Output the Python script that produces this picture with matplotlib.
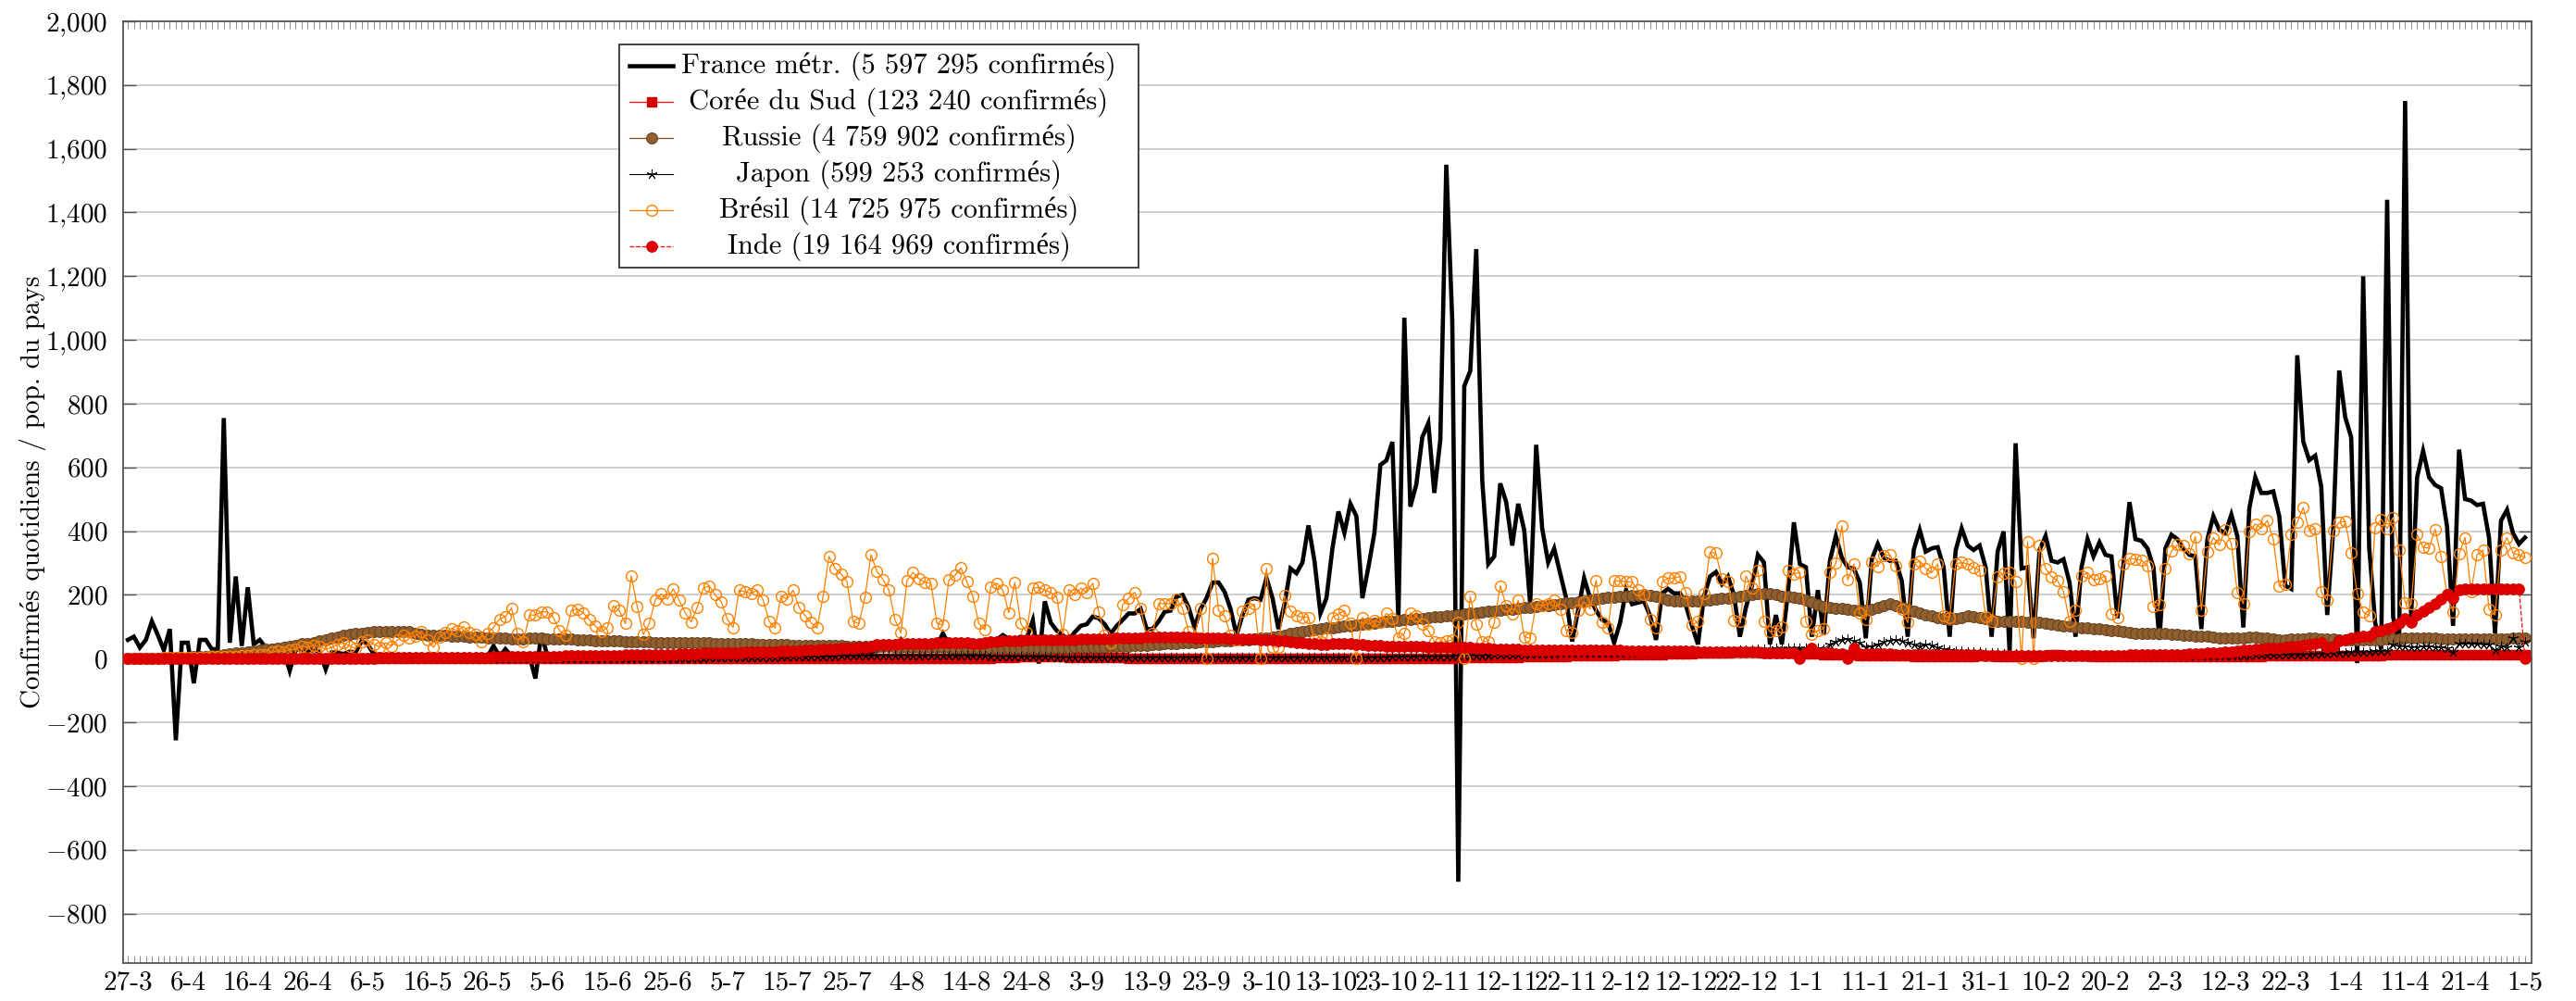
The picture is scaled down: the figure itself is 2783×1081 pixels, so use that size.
import numpy as np
import pandas as pd
import matplotlib
matplotlib.use("Agg")
import matplotlib.pyplot as plt
from matplotlib.patches import Rectangle

# daily confirmed / population (per million), one value per day from 27-3-2020
france = [59, 69, 35, 59, 117, 74, 27, 93, -256, 50, 50, -77, 59, 59, 30, 30, 755, 50, 258, 40, 224, 45, 59,
          35, 40, 30, 25, -38, 30, 25, 20, 28, 22, -33, 20, 18, 15, 22, 20, 55, 45,
          15, 12, 10, 14, 8, 10, 12, 6, 9, 8, 10, 7, 5, 9, 8, 6, 5, 7, 8, 6,
          40, 8, 30, 7, 5, 6, 8, -62, 79,
          8, 6, 7, 5, 6, 7, 5, 4, 6, 8, 7, 5, 6, 7, 8, 9, 7, 6, 8, 9, 10, 8, 9, 11, 10, 9, 8, 10, 12, 11,
          10, 12, 11, 9, 13, 14, 12, 11, 10, 13, 15, 14, 12, 16, 18, 17, 15, 19, 20, 18,
          16, 22, 24, 21, 20, 25, 28, 30, 27, 59, 30, 35, 38, 33, 40, 42, 79,
          45, 48, 44, 50, 55, 52, 48, 58, 60, 74, 62, 60, 69, 65,
          120, -15,
          180, 113, 88, 74, 59, 83, 103, 108, 132, 127, 108, 79, 103, 122, 142, 142, 156, 93, 93, 117,
          147, 151, 195, 200, 161, 98, 156, 190, 239, 239, 210, 156, 74, 137, 185, 190, 185, 253, 190, 93,
          171, 283, 268, 302, 418, 307, 142, 190, 346, 462, 395,
          486, 447, 190, 287, 394, 608, 622, 680, 122, 1070, 477, 547, 695, 739, 520, 686, 1550, 1060, -700, 855,
          903, 1285, 559, 297, 321, 550, 491, 355, 486, 404, 171, 671, 409, 302, 346, 268, 190, 54, 151, 253,
          190, 151, 122, 113, 50, 113, 215, 171, 176, 180, 135,
          59, 205, 219, 205, 205, 166, 103, 45, 195, 258, 272, 234, 258, 200, 69, 161, 229, 326, 302, 45,
          137, 45, 205, 428, 297, 287, 69, 215, 74, 307, 385, 317, 287, 283, 239, 64, 312, 360, 317, 307,
          307, 244, 69, 341, 404, 336, 346, 350, 287, 69, 340,
          409, 355, 341, 355, 287, 69, 336, 399, 20, 676, 283, 287, 64, 341, 385, 307, 302, 312, 239, 69,
          287, 375, 321, 365, 326, 321, 127, 297, 491, 375, 370, 346, 287, 59, 346, 389, 375, 346, 326, 321,
          93, 375, 447, 404, 394, 452, 385, 98, 472,
          569, 520, 520, 525, 447, 229, 219, 952, 681, 623, 637, 540, 137, 404, 904, 758, 695, -14, 1200, 350,
          113, 30, 1440, 130, 50, 1750, 132, 569, 652, 569, 545, 535, 414, 103, 656, 501, 496, 482, 486, 380,
          79, 433, 467, 394, 360, 380]

coree = [2, 2, 2, 2, 2, 2, 2, 1, 1, 1, 1, 1, 1, 1, 1, 1, 1, 1, 1, 1, 1, 1, 0, 0, 0, 0, 0, 0, 0, 0,
         0, 0, 0, 0, 0, 0, 0, 0, 0, 0, 0, 0, 0, 0, 1, 1, 1, 1, 1, 1, 0, 0, 0, 0, 0, 0, 0, 1, 1, 1,
         1, 1, 1, 1, 1, 1, 1, 1, 1, 1, 1, 1, 1, 1, 1, 1, 1, 1, 1, 1, 1, 1, 1, 1, 1, 1, 1, 1, 1, 1,
         1, 1, 1, 1, 1, 1, 1, 1, 1, 1, 1, 1, 1, 1, 1, 1, 1, 1, 1, 1, 1, 1, 1, 1, 1, 1, 1, 1, 1, 1,
         1, 1, 1, 1, 1, 1, 1, 1, 1, 1, 1, 1, 1, 1, 1, 1, 1, 1, 1, 1, 1, 1, 1, 1, 2, 3, 4, 5, 5, 6,
         7, 8, 6, 6, 7, 8, 6, 5, 5, 4, 4, 3, 3, 3, 3, 3, 3, 2, 2, 2, 2, 2, 2, 2, 2, 2, 2, 2, 2, 2,
         2, 2, 2, 2, 2, 2, 2, 2, 2, 2, 2, 2, 2, 2, 2, 2, 2, 2, 2, 2, 2, 2, 2, 2, 2, 2, 2, 2, 2, 2,
         2, 2, 2, 2, 2, 2, 2, 2, 2, 2, 2, 2, 3, 3, 3, 3, 3, 4, 4, 4, 4, 5, 5, 6, 6, 6, 7, 7, 8, 8,
         8, 9, 9, 10, 10, 10, 11, 11, 11, 12, 12, 12, 13, 13, 13, 14, 14, 15, 15, 15,
         16, 16, 17, 17, 18, 18, 19, 19, 20, 20, 20, 20, 20, 19, 19, 18, 18, 17, 17, 16,
         16, 15, 15, 14, 14, 13, 13, 12, 12, 11, 11, 10, 10, 10, 9, 9, 9, 9, 8, 8,
         8, 8, 8, 8, 8, 8, 8, 8, 8, 9, 9, 9, 8, 8, 8, 8, 8, 8, 8, 8,
         11, 12, 12, 11, 10, 9, 9, 9, 8, 8, 8, 8, 8, 8, 8, 8, 8, 8, 8, 8,
         8, 8, 8, 8, 8, 8, 8, 8, 8, 8, 8, 8, 8, 8, 8, 8, 8, 9, 9, 9,
         9, 9, 9, 9, 9, 9, 9, 9, 10, 10, 10, 10, 10, 11, 11, 11, 11, 12, 12, 12,
         12, 12, 12, 13, 13, 13, 13, 13, 13, 13, 13, 13, 13, 13, 13, 13, 14, 14, 14, 14,
         14]

russie = [1, 1, 1, 2, 2, 2, 3, 3, 4, 4, 5, 6, 7, 8, 10, 11, 13, 15, 17, 19,
          21, 23, 26, 29, 31, 34, 37, 40, 43, 46, 48, 51, 55, 60, 65, 69, 73, 76, 78, 80,
          82, 84, 85, 86, 86, 85, 84, 84, 80, 76, 75, 74, 74, 73, 72, 71, 70, 69, 68, 67,
          66, 66, 65, 64, 63, 63, 63, 64, 64, 64, 63, 63, 62, 62, 61, 60, 59, 58, 57, 57,
          56, 56, 55, 54, 53, 53, 52, 52, 51, 51, 50, 50, 50, 50, 50, 49, 49, 49, 48, 48,
          48, 47, 47, 46, 46, 45, 45, 45, 44, 44, 44, 43, 43, 43, 42, 42, 42, 41, 41, 41,
          40, 40, 40, 39, 39, 38, 38, 38, 37, 37, 37, 36, 36, 36, 35, 35, 35, 35, 34, 34,
          34, 34, 33, 33, 33, 33, 33, 33, 32, 32, 32, 32, 32, 33, 33, 33, 34, 34, 35, 35,
          36, 36, 37, 37, 38, 38, 39, 40, 41, 42, 43, 44, 45, 46, 47, 48, 49, 50, 51, 52,
          53, 54, 55, 56, 57, 58, 59, 60, 62, 64, 66, 69, 72, 75, 78, 81, 84, 87, 90, 93,
          96, 98, 100, 102, 104, 106, 108, 110, 112, 114, 116, 118, 120, 122, 124, 125, 127, 129, 131, 132,
          134, 136, 138, 140, 142, 144, 146, 148, 150, 152, 154, 156, 158, 160, 162, 164, 166, 168, 170, 172,
          174, 176, 178, 180, 184, 188, 190, 192, 194, 196, 197, 198, 199, 200, 198, 195, 190, 185, 182, 180,
          180, 181, 182, 183, 185, 187, 189, 191, 193, 195, 198, 200, 203, 205, 203, 200, 197, 195, 192, 190,
          185, 178, 170, 164, 161, 159, 157, 155, 153, 151, 152, 155, 160, 166, 171, 168, 162, 155, 148, 142,
          138, 134, 130, 126, 122, 125, 130, 135, 133, 130, 126, 122, 118, 117, 117, 116, 116, 115, 114, 113,
          110, 108, 106, 104, 102, 100, 98, 96, 95, 93, 91, 89, 87, 85, 82, 79, 79, 79, 79, 79,
          78, 77, 76, 75, 74, 72, 71, 70, 68, 66, 64, 64, 65, 66, 67, 68, 66, 64, 62, 60,
          60, 61, 62, 63, 64, 64, 63, 62, 61, 60, 60, 59, 59, 59, 59, 59, 60, 61, 62, 63,
          64, 64, 64, 64, 64, 64, 63, 63, 63, 63, 63, 63, 63, 62, 62, 62, 63, 63, 64, 65,
          66]

japon = [1, 1, 1, 1, 1, 2, 2, 2, 2, 3, 3, 3, 4, 4, 4, 5, 4, 5, 4, 4,
         3, 4, 3, 3, 2, 2, 2, 2, 2, 2, 2, 2, 1, 1, 1, 1, 1, 1, 1, 1,
         1, 1, 1, 1, 0, 0, 0, 0, 0, 0, 0, 0, 0, 0, 0, 0, 0, 0, 0, 0,
         0, 0, 0, 0, 0, 0, 0, 0, 0, 1, 1, 1, 1, 1, 1, 1, 1, 1, 1, 1,
         1, 1, 1, 1, 1, 1, 1, 1, 2, 2, 2, 2, 2, 2, 2, 2, 2, 3, 3, 3,
         3, 3, 3, 4, 4, 4, 5, 5, 5, 6, 6, 6, 7, 7, 7, 8, 8, 8, 8, 9,
         9, 9, 9, 9, 10, 10, 10, 10, 10, 10, 10, 10, 10, 10, 10, 11, 11, 11, 11, 10,
         10, 9, 9, 9, 8, 8, 8, 8, 7, 7, 7, 6, 6, 6, 6, 5, 5, 5, 5, 5,
         5, 4, 4, 4, 4, 4, 4, 4, 4, 4, 4, 4, 4, 4, 4, 4, 4, 4, 4, 4,
         4, 4, 4, 4, 4, 4, 4, 4, 4, 4, 4, 4, 4, 4, 4, 4, 4, 4, 4, 4,
         4, 4, 4, 4, 4, 5, 5, 5, 5, 5, 5, 6, 6, 6, 6, 7, 7, 7, 7, 8,
         8, 8, 9, 9, 10, 10, 11, 11, 12, 12, 13, 13, 14, 14, 15, 15, 16, 16, 16, 17,
         17, 17, 17, 17, 18, 18, 18, 18, 18, 19, 19, 19, 20, 20, 20, 20, 21, 21, 21, 22,
         22, 22, 23, 23, 24, 24, 24, 25, 25, 26, 27, 28, 29, 30, 31, 32, 33, 33, 34, 34,
         34, 33, 32, 30, 45, 54, 60, 62, 55, 50, 37, 40, 45, 52, 57, 59, 55, 50, 45, 40,
         45, 42, 35, 30, 27, 25, 24, 22, 21, 20, 19, 18, 17, 16, 16, 15, 15, 14, 14, 14,
         13, 13, 13, 12, 12, 12, 12, 11, 11, 11, 11, 11, 11, 11, 11, 11, 11, 10, 10, 10,
         10, 10, 10, 10, 10, 10, 10, 10, 10, 10, 10, 10, 11, 11, 11, 12, 12, 12, 13, 13,
         13, 13, 14, 14, 14, 15, 15, 16, 17, 18, 19, 20, 21, 22, 22, 23, 24, 25, 45, 40,
         38, 37, 36, 38, 38, 36, 35, 33, 20, 46, 48, 47, 46, 45, 44, 27, 38, 35, 64, 35,
         54]

bresil = [1, 1, 1, 2, 2, 2, 3, 3, 3, 4, 4, 4, 5, 5, 6, 6, 7, 8, 8, 9, 10, 12, 12, 14,
          20, 25, 22, 28, 30, 40, 35, 42, 38, 30, 35, 45, 50, 40, 32, 54, 60, 45, 37, 50, 40, 59, 74, 66, 72,
          85,
          59, 35, 69, 82, 95, 88, 101, 82, 76, 54, 79, 98, 124, 132, 159, 79, 54, 137, 137, 147,
          147, 130, 88, 74, 151, 156, 144, 122, 103, 84, 98, 166, 151, 110, 260, 163, 76, 110, 185, 203,
          187, 219, 183, 144, 115, 161, 221, 229, 200, 179, 125, 98,
          215, 210, 205, 215, 185, 117, 96, 197, 187, 215, 161, 135, 113, 96, 195, 321, 283, 266, 242, 117,
          110, 193, 326, 273, 249, 215, 122, 81, 244, 271, 251, 239, 237, 111, 105, 247, 261, 285, 241, 195,
          110, 91, 226, 237, 215, 144, 239, 110, 82, 221, 224,
          215, 208, 193, 76, 217, 200, 221, 207, 237, 147, 74, 50, 66, 169, 190, 208, 159, 69, 79, 173,
          173, 173, 187, 158, 84, 69, 159, 1, 315, 151, 134, 74, 59, 150, 159, 171, 0, 284, 35, 37,
          198, 150, 135, 130, 130, 59, 54, 64, 130, 140, 151,
          111, 0, 130, 108, 120, 113, 142, 127, 64, 79, 144, 134, 108, 88, 54, 50, 55, 59, 113, 1,
          195, 108, 54, 54, 113, 229, 166, 140, 183, 69, 64, 171, 166, 171, 185, 156, 88, 82, 151, 179,
          156, 246, 115, 98, 244, 244, 241, 241, 215, 202, 124,
          98, 241, 253, 253, 258, 208, 105, 117, 205, 334, 331, 250, 241, 120, 117, 260, 221, 278, 116, 84,
          88, 100, 276, 266, 270, 116, 76, 88, 95, 270, 299, 417, 247, 297, 142, 122, 302, 289, 324, 326,
          292, 156, 113, 297, 307, 283, 270, 297, 134, 130, 297,
          302, 297, 287, 278, 132, 117, 256, 268, 270, 241, 0, 367, 0, 355, 283, 258, 244, 210, 117, 153,
          260, 270, 247, 251, 260, 140, 130, 297, 315, 312, 309, 292, 163, 169, 283, 338, 357, 355, 328, 383,
          153, 334, 380, 357, 406, 360, 208, 173, 399,
          423, 409, 433, 375, 227, 234, 389, 428, 474, 402, 409, 210, 183, 402, 428, 431, 331, 205, 147, 134,
          412, 438, 409, 443, 341, 176, 171, 389, 350, 347, 406, 322, 200, 147, 328, 380, 210, 326, 341, 156,
          137, 341, 380, 331, 326, 317]

inde = [0, 0, 0, 0, 0, 0, 0, 0, 0, 0, 0, 1, 1, 1, 1, 1, 1, 1, 1, 1,
        1, 1, 1, 1, 1, 1, 1, 1, 1, 1, 1, 1, 1, 2, 2, 2, 2, 2, 2, 2,
        2, 2, 3, 3, 3, 3, 3, 3, 3, 3, 4, 4, 4, 4, 4, 4, 5, 5, 5, 5,
        5, 6, 6, 6, 6, 7, 7, 7, 7, 8, 8, 8, 8, 9, 9, 9, 10, 10, 10, 10,
        11, 11, 11, 12, 12, 12, 13, 13, 13, 14, 14, 14, 15, 15, 16, 16, 17, 17, 18, 18,
        18, 19, 19, 20, 20, 21, 21, 22, 22, 23, 24, 24, 25, 26, 27, 28, 29, 30, 31, 32,
        33, 34, 35, 37, 40, 44, 45, 45, 45, 46, 46, 47, 47, 48, 48, 49, 50, 50, 50, 50,
        49, 48, 47, 50, 53, 54, 55, 55, 56, 57, 58, 59, 60, 60, 60, 60, 60, 60, 60, 61,
        61, 62, 62, 63, 63, 64, 65, 65, 66, 66, 67, 67, 68, 68, 68, 68, 67, 67, 66, 66,
        65, 65, 64, 64, 63, 63, 62, 62, 61, 60, 59, 58, 57, 55, 52, 50, 49, 48, 47, 45,
        44, 46, 48, 47, 46, 45, 44, 43, 42, 41, 40, 40, 39, 39, 38, 38, 38, 37, 37, 37,
        36, 36, 36, 35, 35, 34, 33, 32, 31, 30, 30, 29, 29, 28, 28, 28, 28, 28, 28, 27,
        27, 27, 27, 27, 27, 27, 26, 26, 26, 26, 25, 25, 25, 25, 24, 24, 24, 24, 23, 23,
        23, 23, 22, 22, 22, 22, 21, 21, 21, 21, 20, 20, 20, 19, 19, 19, 18, 18, 18, 0,
        18, 34, 17, 17, 17, 16, 16, 0, 32, 16, 16, 15, 15, 15, 15, 14, 14, 14, 14, 14,
        13, 13, 13, 13, 12, 12, 12, 12, 12, 12, 11, 11, 11, 11, 11, 11, 11, 11, 11, 11,
        11, 11, 11, 11, 11, 11, 11, 11, 11, 11, 11, 11, 11, 11, 12, 12, 12, 12, 12, 13,
        13, 13, 14, 14, 15, 15, 16, 17, 18, 19, 20, 22, 24, 26, 28,
        30, 31, 32, 33, 34, 36, 38, 40, 42, 45, 48, 50, 37, 38, 55, 60, 64, 68, 72, 70,
        85, 88, 93, 99, 112, 125, 113, 137, 148, 160, 172, 188, 202, 190, 215, 218, 219, 219, 219, 219,
        219, 219, 219, 219, 219, 0]

labels = ['France métr. (5 597 295 confirmés)', 'Corée du Sud (123 240 confirmés)',
          'Russie (4 759 902 confirmés)', 'Japon (599 253 confirmés)',
          'Brésil (14 725 975 confirmés)', 'Inde (19 164 969 confirmés)']

dates = pd.date_range('2020-03-27', periods=len(france), freq='D')
x = np.arange(len(dates))
day_labels = [f'{d.day}-{d.month}' for d in dates]

plt.rcParams['font.family'] = ['cmr10', 'Liberation Serif']
plt.rcParams['mathtext.fontset'] = 'cm'

W, H = 2783, 1081
fig = plt.figure(figsize=(W / 100, H / 100), dpi=100)
ax_l, ax_r, ax_t, ax_b = 133, 2735, 23, 1040
ax = fig.add_axes([ax_l / W, 1 - ax_b / H, (ax_r - ax_l) / W, (ax_b - ax_t) / H])

styles = [
    dict(color='black', lw=3.3, solid_joinstyle='miter'),
    dict(color='red', lw=0.9, marker='s', ms=7, mfc='#d40000', mec='#d40000'),
    dict(color='#7a4a1e', lw=0.9, marker='o', ms=8.5, mfc='#8f5f30', mec='#6a4220', mew=0.8),
    dict(color='black', lw=0.8, marker=(5, 2, 0), ms=8, mew=0.7),
    dict(color='#ff8000', lw=0.9, marker='o', ms=8.5, mfc='none', mec='#ff8000', mew=1.0),
    dict(color='red', lw=0.9, ls='--', marker='o', ms=8.5, mfc='#e00000', mec='#cc0000', mew=0.6),
]
series = [france, coree, russie, japon, bresil, inde]
for i, (vals, st) in enumerate(zip(series, styles)):
    ax.plot(x, vals, zorder=3 + i, **st)

ax.set_xlim(-0.8, 401.1)
ax.set_ylim(-955, 2000)

yt = np.arange(-800, 2001, 200)
ax.set_yticks(yt)
ax.set_yticklabels(['$' + f'{v:,}'.replace(',', '{,}') + '$' for v in yt], fontsize=21)
ax.set_xticks(x[::10])
ax.set_xticklabels(day_labels[::10], fontsize=21)
ax.set_xticks(x, minor=True)

ax.tick_params(axis='y', direction='in', left=True, right=True, length=10, width=1.0,
               color='#555555', pad=12)
ax.tick_params(axis='x', which='both', direction='in', top=True, bottom=True,
               length=6, width=0.6, color='#777777', pad=6)
ax.grid(axis='y', color='#cccccc', lw=1.3, zorder=0)
ax.set_axisbelow(True)
for sp in ax.spines.values():
    sp.set_color('#555555')
    sp.set_linewidth(1.3)

ax.set_ylabel('Confirmés quotidiens / pop. du pays', fontsize=21)
ax.yaxis.set_label_coords((50 - ax_l) / (ax_r - ax_l), 0.5)

# legend box drawn by hand so that the entries are centered like the original
aw, ah = ax_r - ax_l, ax_b - ax_t
def fx(px):
    return (px - ax_l) / aw
def fy(py):
    return 1 - (py - ax_t) / ah

ax.add_patch(Rectangle((fx(669), fy(289)), fx(1230) - fx(669), fy(48) - fy(289),
                       transform=ax.transAxes, facecolor='white', edgecolor='#333333',
                       lw=1.3, zorder=20))
for i, (lab, st) in enumerate(zip(labels, styles)):
    yy = fy(71 + 39 * i)
    line_st = {k: v for k, v in st.items() if k not in ('marker', 'ms', 'mfc', 'mec', 'mew')}
    ax.plot([fx(680), fx(727)], [yy, yy], transform=ax.transAxes, zorder=21,
            clip_on=False, **line_st)
    if 'marker' in st:
        ax.plot([fx(703.5)], [yy], transform=ax.transAxes, zorder=22, clip_on=False, ls='none',
                marker=st['marker'], ms=st['ms'], mfc=st.get('mfc', st['color']),
                mec=st.get('mec', st['color']), mew=st.get('mew', 1.0))
    ax.text(fx(971), yy, lab, transform=ax.transAxes, ha='center', va='center',
            fontsize=22, zorder=23)

fig.savefig('out.png', dpi=100)
